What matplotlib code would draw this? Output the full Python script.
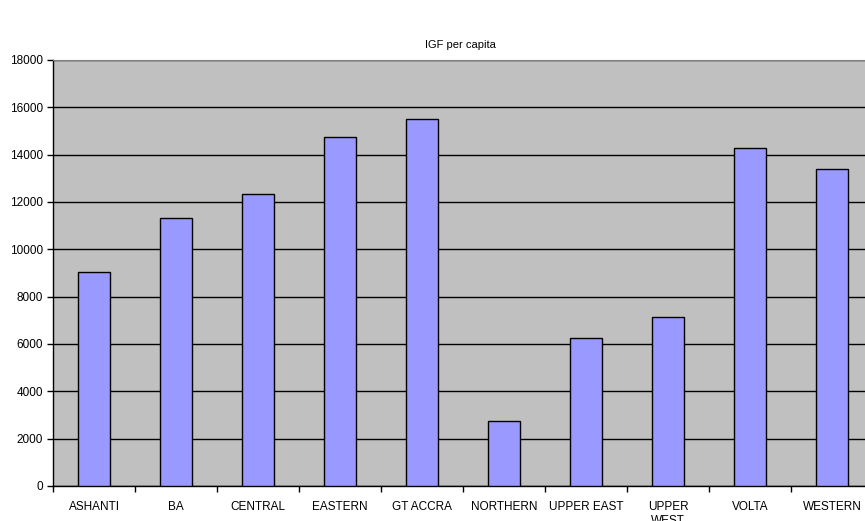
import matplotlib
matplotlib.use("Agg")
import matplotlib.pyplot as plt
import numpy as np

regions = ["ASHANTI", "BA", "CENTRAL", "EASTERN", "GT ACCRA", "NORTHERN",
           "UPPER EAST", "UPPER\nWEST", "VOLTA", "WESTERN"]
igf = [9030, 11310, 12320, 14760, 15520, 2760, 6240, 7150, 14290, 13390]
y_ticks = [0, 2000, 4000, 6000, 8000, 10000, 12000, 14000, 16000, 18000]

plt.rcParams['font.family'] = ['Liberation Sans', 'DejaVu Sans']

fig = plt.figure(figsize=(8.65, 5.21), dpi=100)
# axes slightly wider than the figure: the right edge is cut off in the original
ax = fig.add_axes([53 / 865, 35 / 521, 820 / 865, 426 / 521])
ax.set_facecolor("#C0C0C0")

x = np.arange(len(regions))
ax.bar(x, igf, width=0.4, color="#9999FF", edgecolor="black", linewidth=1, zorder=3)

ax.set_xlim(-0.5, len(regions) - 0.5)
ax.set_ylim(0, 18000)
ax.set_yticks(y_ticks)
ax.set_yticklabels([str(v) for v in y_ticks], fontsize=8.5)
ax.yaxis.grid(True, color="black", linewidth=1, zorder=1)

# category labels centred, tick marks between categories
ax.set_xticks(x)
ax.set_xticklabels(regions, fontsize=8.5, linespacing=1.15)
ax.tick_params(axis="x", which="major", length=0, pad=11)
ax.set_xticks(np.arange(len(regions) + 1) - 0.5, minor=True)
ax.tick_params(axis="x", which="minor", length=4, direction="out", width=1)
ax.tick_params(axis="y", length=4, direction="out", width=1, pad=3)

ax.spines["right"].set_visible(False)
ax.spines["top"].set_color("#808080")
ax.spines["left"].set_linewidth(1)
ax.spines["bottom"].set_linewidth(1)

fig.text(460 / 865, 1 - 45 / 521, "IGF per capita", ha="center", va="center", fontsize=8)

fig.savefig("out.png", dpi=100)
